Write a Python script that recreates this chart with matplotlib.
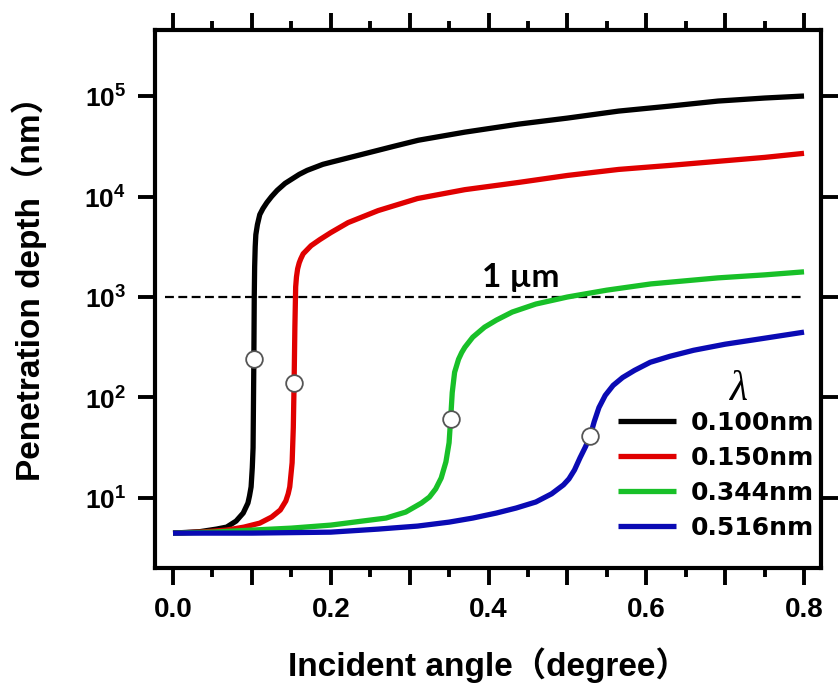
import numpy as np
import matplotlib
matplotlib.use('Agg')
import matplotlib.pyplot as plt
from matplotlib.ticker import FixedLocator, FixedFormatter

plt.rcParams['mathtext.fontset'] = 'custom'
plt.rcParams['mathtext.rm'] = 'Liberation Sans'
plt.rcParams['mathtext.bf'] = 'Liberation Sans:bold'

# incident angle (degree) and penetration depth (nm) for each wavelength
angle_100 = [0.000, 0.034, 0.055, 0.068, 0.080, 0.089, 0.095, 0.097, 0.099, 0.1005, 0.1015,
             0.1025, 0.1030, 0.1035, 0.1042, 0.105, 0.107, 0.110, 0.114, 0.119, 0.125, 0.132,
             0.142, 0.150, 0.160, 0.170, 0.180, 0.190, 0.200, 0.240, 0.280, 0.311, 0.370,
             0.438, 0.500, 0.565, 0.630, 0.691, 0.750, 0.800]
depth_100 = [4.47, 4.62, 4.90, 5.13, 5.89, 7.08, 8.91, 10.5, 12.9, 20.0, 31.6,
             240, 1000, 2000, 3160, 4170, 5250, 6610, 7590, 8710, 10000, 11500,
             13500, 14800, 16600, 18200, 19500, 20900, 21900, 26300, 31600, 36300, 43700,
             52500, 60300, 70800, 79400, 89100, 95500, 100000]

angle_150 = [0.000, 0.034, 0.068, 0.090, 0.110, 0.125, 0.136, 0.143, 0.146, 0.148, 0.151,
             0.1525, 0.1535, 0.1545, 0.1555, 0.1565, 0.158, 0.160, 0.162, 0.165, 0.175, 0.186,
             0.200, 0.222, 0.260, 0.310, 0.370, 0.438, 0.500, 0.565, 0.630, 0.691, 0.750, 0.800]
depth_150 = [4.47, 4.57, 4.79, 5.13, 5.62, 6.46, 7.59, 9.33, 11.0, 12.9, 22.4,
             50.1, 138, 501, 1260, 1580, 1910, 2190, 2400, 2690, 3240, 3720,
             4370, 5500, 7240, 9550, 11700, 13800, 16200, 18600, 20400, 22400, 24500, 26900]

angle_344 = [0.000, 0.050, 0.100, 0.150, 0.200, 0.240, 0.270, 0.295, 0.315, 0.325, 0.333,
             0.340, 0.346, 0.350, 0.352, 0.354, 0.357, 0.362, 0.366, 0.370, 0.380, 0.395,
             0.410, 0.430, 0.460, 0.500, 0.550, 0.606, 0.650, 0.691, 0.750, 0.800]
depth_344 = [4.47, 4.57, 4.79, 5.01, 5.37, 5.89, 6.31, 7.24, 8.91, 10.2, 12.3,
             15.8, 22.9, 35.5, 61.7, 112, 178, 240, 280, 316, 398, 501,
             589, 708, 851, 1000, 1170, 1350, 1450, 1550, 1660, 1780]

angle_516 = [0.000, 0.100, 0.200, 0.260, 0.310, 0.350, 0.380, 0.410, 0.435, 0.460, 0.480,
             0.495, 0.502, 0.509, 0.516, 0.523, 0.529, 0.534, 0.540, 0.548, 0.558, 0.570,
             0.585, 0.605, 0.630, 0.660, 0.700, 0.750, 0.800]
depth_516 = [4.47, 4.47, 4.57, 4.90, 5.25, 5.75, 6.31, 7.08, 7.94, 9.12, 11.0,
             13.5, 15.5, 19.0, 25.1, 32.4, 41.7, 57.5, 79.4, 105, 132, 158,
             186, 224, 257, 295, 339, 389, 447]

# critical angle points marked with open circles
crit_angle = [0.1025, 0.1535, 0.352, 0.529]
crit_depth = [240, 138, 61.7, 41.7]

labels = ['0.100nm', '0.150nm', '0.344nm', '0.516nm']
colors = ['#000000', '#e00000', '#18c028', '#0a0ab4']

x_ticks = [0.0, 0.1, 0.2, 0.3, 0.4, 0.5, 0.6, 0.7, 0.8]
x_tick_labels = ['0.0', '', '0.2', '', '0.4', '', '0.6', '', '0.8']
y_ticks = [1e1, 1e2, 1e3, 1e4, 1e5]
y_tick_labels = [r'$\mathbf{10}^{\mathbf{1}}$', r'$\mathbf{10}^{\mathbf{2}}$', r'$\mathbf{10}^{\mathbf{3}}$',
                 r'$\mathbf{10}^{\mathbf{4}}$', r'$\mathbf{10}^{\mathbf{5}}$']

fig = plt.figure(figsize=(8.38, 6.88), dpi=100)
ax = fig.add_axes([0.185, 0.1744, 0.7947, 0.782])

curves = [(angle_100, depth_100), (angle_150, depth_150), (angle_344, depth_344), (angle_516, depth_516)]
lines = []
for (a, d), c, lab in zip(curves, colors, labels):
    ln, = ax.plot(a, d, color=c, lw=3.8, label=lab, solid_capstyle='butt',
                  solid_joinstyle='round', zorder=3)
    lines.append(ln)

ax.plot(crit_angle, crit_depth, 'o', ms=12, mfc='white', mec='#555555', mew=1.3, zorder=5)

# 1 micron reference line
ax.plot([-0.01, 0.80], [1000, 1000], color='black', lw=1.6, dashes=(4, 2), zorder=2)
ax.text(0.441, 10 ** 3.19, '1 µm', ha='center', va='center', fontsize=24,
        family=['Lato', 'DejaVu Sans'], weight='bold')

ax.set_yscale('log')
ax.set_xlim(-0.0228, 0.8215)
ax.set_ylim(10 ** 0.303, 10 ** 5.657)

ax.xaxis.set_major_locator(FixedLocator(x_ticks))
ax.xaxis.set_major_formatter(FixedFormatter(x_tick_labels))
ax.xaxis.set_minor_locator(FixedLocator([0.05, 0.15, 0.25, 0.35, 0.45, 0.55, 0.65, 0.75]))
ax.yaxis.set_major_locator(FixedLocator(y_ticks))
ax.yaxis.set_major_formatter(FixedFormatter(y_tick_labels))
ax.yaxis.set_minor_locator(FixedLocator([]))

ax.tick_params(axis='both', which='major', direction='out', width=2.8, length=12,
               top=True, right=True)
ax.tick_params(axis='x', which='minor', direction='out', width=2.8, length=6.5, top=True)
ax.tick_params(axis='x', which='major', labelsize=20, pad=9)
ax.tick_params(axis='y', which='major', labelsize=19, pad=9)
for lab in ax.get_xticklabels():
    lab.set_fontfamily('Liberation Sans')
    lab.set_fontweight('bold')
for sp in ax.spines.values():
    sp.set_linewidth(3)

label_font = dict(family=['Liberation Sans', 'Noto Sans CJK JP'], weight='bold', size=24)
ax.set_xlabel('Incident angle（degree）', **label_font)
ax.set_ylabel('Penetration depth（nm）', **label_font)
ax.xaxis.set_label_coords(0.5, -0.148)
ax.yaxis.set_label_coords(-0.162, 0.535)

ax.legend(handles=lines, loc='upper left', bbox_to_anchor=(0.695, 0.292), frameon=False,
          borderpad=0, borderaxespad=0, handlelength=2.33, handletextpad=0.6,
          labelspacing=0.44, prop=dict(family='DejaVu Sans', weight='bold', size=18))
ax.text(0.875, 0.331, 'λ', transform=ax.transAxes, ha='center', va='center',
        family='Liberation Serif', style='italic', fontsize=30)

fig.savefig('out.png', dpi=100)
